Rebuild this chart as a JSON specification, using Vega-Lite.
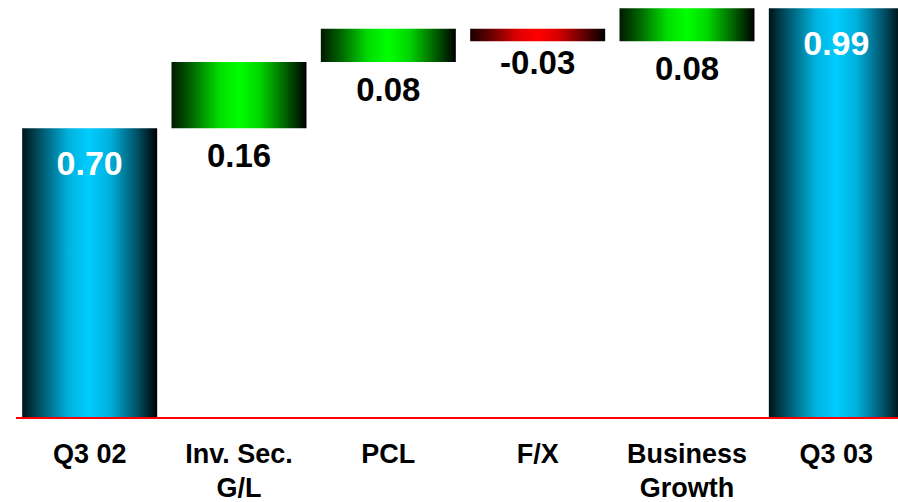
{
  "$schema": "https://vega.github.io/schema/vega-lite/v6.json",
  "autosize": "none",
  "padding": {"left": 15, "top": 4, "right": 0, "bottom": 84},
  "width": 883,
  "height": 414,
  "background": "white",
  "data": {
    "values": [
      {"step": "Q3 02", "kind": "total", "start": 0, "end": 0.70, "value": 0.70},
      {"step": "Inv. Sec.|G/L", "kind": "up", "start": 0.70, "end": 0.86, "value": 0.16},
      {"step": "PCL", "kind": "up", "start": 0.86, "end": 0.94, "value": 0.08},
      {"step": "F/X", "kind": "down", "start": 0.94, "end": 0.91, "value": -0.03},
      {"step": "Business|Growth", "kind": "up", "start": 0.91, "end": 0.99, "value": 0.08},
      {"step": "Q3 03", "kind": "total", "start": 0, "end": 0.99, "value": 0.99}
    ]
  },
  "encoding": {
    "x": {
      "field": "step",
      "type": "nominal",
      "sort": ["Q3 02", "Inv. Sec.|G/L", "PCL", "F/X", "Business|Growth", "Q3 03"],
      "scale": {"range": [0, 896], "paddingInner": 0.096, "paddingOuter": 0.048},
      "axis": {
        "title": null,
        "domain": false,
        "ticks": false,
        "labelAngle": 0,
        "labelFont": "Liberation Sans",
        "labelFontWeight": "bold",
        "labelFontSize": 27,
        "labelColor": "#000000",
        "labelPadding": 23,
        "labelLineHeight": 34,
        "labelExpr": "split(datum.label, '|')"
      }
    }
  },
  "layer": [
    {
      "transform": [{"filter": "datum.kind === 'total'"}],
      "mark": {
        "type": "bar",
        "color": {
          "gradient": "linear", "x1": 0, "y1": 0, "x2": 1, "y2": 0,
          "stops": [
            {"offset": 0, "color": "#001418"},
            {"offset": 0.15, "color": "#005a70"},
            {"offset": 0.35, "color": "#00b4e0"},
            {"offset": 0.5, "color": "#00ccff"},
            {"offset": 0.65, "color": "#00b0dc"},
            {"offset": 0.85, "color": "#005268"},
            {"offset": 1, "color": "#000000"}
          ]
        }
      },
      "encoding": {
        "y": {"field": "start", "type": "quantitative", "scale": {"domain": [0, 1], "nice": false, "zero": true}, "axis": null},
        "y2": {"field": "end"}
      }
    },
    {
      "transform": [{"filter": "datum.kind === 'up'"}],
      "mark": {
        "type": "bar",
        "color": {
          "gradient": "linear", "x1": 0, "y1": 0, "x2": 1, "y2": 0,
          "stops": [
            {"offset": 0, "color": "#001a00"},
            {"offset": 0.15, "color": "#006600"},
            {"offset": 0.35, "color": "#00dd00"},
            {"offset": 0.5, "color": "#00ff00"},
            {"offset": 0.65, "color": "#00d800"},
            {"offset": 0.85, "color": "#005e00"},
            {"offset": 1, "color": "#000000"}
          ]
        }
      },
      "encoding": {
        "y": {"field": "start", "type": "quantitative"},
        "y2": {"field": "end"}
      }
    },
    {
      "transform": [{"filter": "datum.kind === 'down'"}],
      "mark": {
        "type": "bar",
        "color": {
          "gradient": "linear", "x1": 0, "y1": 0, "x2": 1, "y2": 0,
          "stops": [
            {"offset": 0, "color": "#1a0000"},
            {"offset": 0.15, "color": "#660000"},
            {"offset": 0.35, "color": "#dd0000"},
            {"offset": 0.5, "color": "#ff0000"},
            {"offset": 0.65, "color": "#d80000"},
            {"offset": 0.85, "color": "#5e0000"},
            {"offset": 1, "color": "#000000"}
          ]
        }
      },
      "encoding": {
        "y": {"field": "start", "type": "quantitative"},
        "y2": {"field": "end"}
      }
    },
    {
      "mark": {"type": "rule", "color": "#ff0000", "strokeWidth": 2},
      "encoding": {"y": {"datum": 0, "type": "quantitative"}, "x": {"value": 1}, "x2": {"value": 896}}
    },
    {
      "transform": [{"filter": "datum.kind === 'total'"}],
      "mark": {"type": "text", "font": "Liberation Sans", "fontWeight": "bold", "fontSize": 34, "color": "#ffffff", "baseline": "alphabetic", "dy": 47},
      "encoding": {
        "y": {"field": "end", "type": "quantitative"},
        "text": {"field": "value", "type": "quantitative", "format": ".2f"}
      }
    },
    {
      "transform": [{"filter": "datum.kind === 'up'"}],
      "mark": {"type": "text", "font": "Liberation Sans", "fontWeight": "bold", "fontSize": 33, "color": "#000000", "baseline": "alphabetic", "dy": 39},
      "encoding": {
        "y": {"field": "start", "type": "quantitative"},
        "text": {"field": "value", "type": "quantitative", "format": ".2f"}
      }
    },
    {
      "transform": [{"filter": "datum.kind === 'down'"}],
      "mark": {"type": "text", "font": "Liberation Sans", "fontWeight": "bold", "fontSize": 33, "color": "#000000", "baseline": "alphabetic", "dy": 33},
      "encoding": {
        "y": {"field": "end", "type": "quantitative"},
        "text": {"field": "value", "type": "quantitative", "format": ".2f"}
      }
    }
  ],
  "config": {
    "view": {"stroke": null},
    "locale": {
      "number": {"decimal": ".", "thousands": ",", "grouping": [3], "currency": ["$", ""], "minus": "-"}
    }
  }
}
